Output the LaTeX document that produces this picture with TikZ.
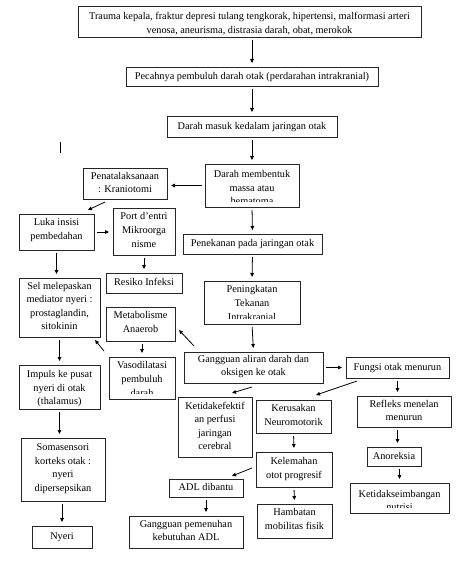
\documentclass[tikz,border=0pt]{standalone}
\usepackage{fontspec}
\setmainfont{Liberation Serif}
\usetikzlibrary{arrows.meta}
\tikzset{
  boxst/.style={draw=black!85, line width=0.9pt, rectangle, inner sep=0pt, outer sep=0pt},
  txt/.style={inner sep=0pt, outer sep=0pt, align=center, font=\fontsize{10.3}{13.6}\selectfont, execute at begin node={\strut}, execute at end node={\strut}},
  arr/.style={draw=black, line width=0.8pt, -{Triangle[length=4pt,width=3.6pt]}, shorten <=3pt, shorten >=4pt},
  arrd/.style={arr, shorten <=0pt, shorten >=0pt},
}
\newcommand{\bx}[7]{%
  \node[boxst, minimum width={(#4-#2)*1pt}, minimum height={(#5-#3)*1pt}] (#1) at ({(#2+#4)/2},{(#3+#5)/2}) {};
  \node[txt] (#1t) at ({(#2+#4)/2},#6) {#7};
}
\newcommand{\bxc}[7]{%
  \node[boxst, minimum width={(#4-#2)*1pt}, minimum height={(#5-#3)*1pt}] (#1) at ({(#2+#4)/2},{(#3+#5)/2}) {};
  \begin{scope}
  \clip (#2,#3) rectangle (#4,{#5-5.5});
  \node[txt] (#1t) at ({(#2+#4)/2},#6) {#7};
  \end{scope}
}
\begin{document}
\begin{tikzpicture}[x=1pt,y=-1pt]
\fill[white] (0,0) rectangle (474,561);
\useasboundingbox (0,0) rectangle (474,561);

\bx{b1}{78}{6}{421}{37}{25}{Trauma kepala, fraktur depresi tulang tengkorak, hipertensi, malformasi arteri\\venosa, aneurisma, distrasia darah, obat, merokok}
\bx{b2}{126}{67}{378}{86}{77}{Pecahnya pembuluh darah otak (perdarahan intrakranial)}
\bx{b3}{167}{116}{337}{137}{126.5}{Darah masuk kedalam jaringan otak}
\bxc{b4}{205}{164}{299}{207}{189.5}{Darah membentuk\\massa atau\\hematoma}
\bx{b5}{83}{168}{167}{199}{184.5}{Penatalaksanaan\\: Kraniotomi}
\bx{b6}{19}{214}{94}{250}{231}{Luka insisi\\pembedahan}
\bx{b7}{113}{208}{175}{255}{232}{Port d’entri\\Mikroorga\\nisme}
\bx{b8}{106}{273}{182}{293}{283}{Resiko Infeksi}
\bx{b9}{183}{234}{322}{254}{244}{Penekanan pada jaringan otak}
\bxc{b10}{204}{281}{300}{324}{305}{Peningkatan\\Tekanan\\Intrakranial}
\bx{b11}{19}{278}{100}{337}{308}{Sel melepaskan\\mediator nyeri :\\prostaglandin,\\sitokinin}
\bx{b12}{106}{307}{175}{341}{324}{Metabolisme\\Anaerob}
\bxc{b13}{109}{357}{175}{399}{381}{Vasodilatasi\\pembuluh\\darah}
\bx{b14}{184}{352}{323}{383}{367.5}{Gangguan aliran darah dan\\oksigen ke otak}
\bx{b15}{346}{357}{449}{378}{368}{Fungsi otak menurun}
\bx{b16}{178}{397}{252}{457}{428}{Ketidakefektif\\an perfusi\\jaringan\\cerebral}
\bx{b17}{256}{400}{331}{433}{417}{Kerusakan\\Neuromotorik}
\bx{b18}{357}{396}{451}{427}{412.5}{Refleks menelan\\menurun}
\bx{b19}{367}{447}{421}{466}{457}{Anoreksia}
\bxc{b20}{350}{483}{449}{513}{502.5}{Ketidakseimbangan\\nutrisi}
\bx{b21}{256}{452}{332}{487}{470}{Kelemahan\\otot progresif}
\bx{b22}{169}{479}{243}{497}{488}{ADL dibantu}
\bx{b23}{257}{504}{332}{538}{521}{Hambatan\\mobilitas fisik}
\bx{b24}{129}{516}{243}{548}{532.5}{Gangguan pemenuhan\\kebutuhan ADL}
\bx{b25}{19}{365}{100}{409}{389.5}{Impuls ke pusat\\nyeri di otak\\(thalamus)}
\bx{b26}{21}{438}{105}{501}{469.5}{Somasensori\\korteks otak :\\nyeri\\dipersepsikan}
\bx{b27}{32}{526}{92}{548}{537}{Nyeri}

\coordinate (m1) at (60,142);
\coordinate (m2) at (60,153);
\draw[line width=0.8pt] (m1) -- (m2);

\draw[arr] (b1.south -| b2.north) -- (b2.north);
\draw[arr] (b2.south -| b3.north) -- (b3.north);
\draw[arr] (b3.south -| b4.north) -- (b4.north);
\draw[arr] (b4.west) -- (b4.west -| b5.east);
\draw[arrd] ([xshift=-20pt,yshift=-3pt]b5.south) -- ([xshift=31.5pt,yshift=4pt]b6.north);
\draw[arr] (b6.east) -- (b6.east -| b7.west);
\draw[arr] (b7.south) -- (b8.north);
\draw[arr] (b6.south) -- (b6.south |- b11.north);
\draw[arr] (b4.south) -- (b9.north);
\draw[arr] (b9.south) -- (b10.north);
\draw[arr] (b10.south) -- (b14.north);
\draw[arrd] ([xshift=10pt,yshift=6pt]b14.north west) -- ([xshift=4pt,yshift=11pt]b12.south east);
\draw[arr] (b12.south -| b13.north) -- (b13.north);
\draw[arrd] ([xshift=-5pt,yshift=6pt]b13.north west) -- ([xshift=-5pt,yshift=-3pt]b11.south east);
\draw[arr] (b11.south) -- (b25.north);
\draw[arr] (b25.south) -- (b25.south |- b26.north);
\draw[arr] (b26.south -| b27.north) -- (b27.north);
\draw[arr] (b14.east) -- (b14.east -| b15.west);
\draw[arrd] ([xshift=-1.5pt,yshift=-4pt]b14.south) -- ([xshift=17pt,yshift=4pt]b16.north);
\draw[arrd] ([xshift=11pt,yshift=-3pt]b15.south west) -- ([xshift=22.5pt,yshift=5pt]b17.north);
\draw[arr] (b15.south) -- (b15.south |- b18.north);
\draw[arr] (b18.south -| b15.south) -- (b19.north -| b15.south);
\draw[arr] (b19.south -| b20.north) -- (b20.north);
\draw[arr] (b17.south) -- (b21.north);
\draw[arrd] ([xshift=-4pt,yshift=1.5pt]b21.west) -- ([xshift=26pt,yshift=3pt]b22.north);
\draw[arr] (b21.south) -- (b23.north);
\draw[arr] (b22.south) -- (b22.south |- b24.north);
\end{tikzpicture}
\end{document}
